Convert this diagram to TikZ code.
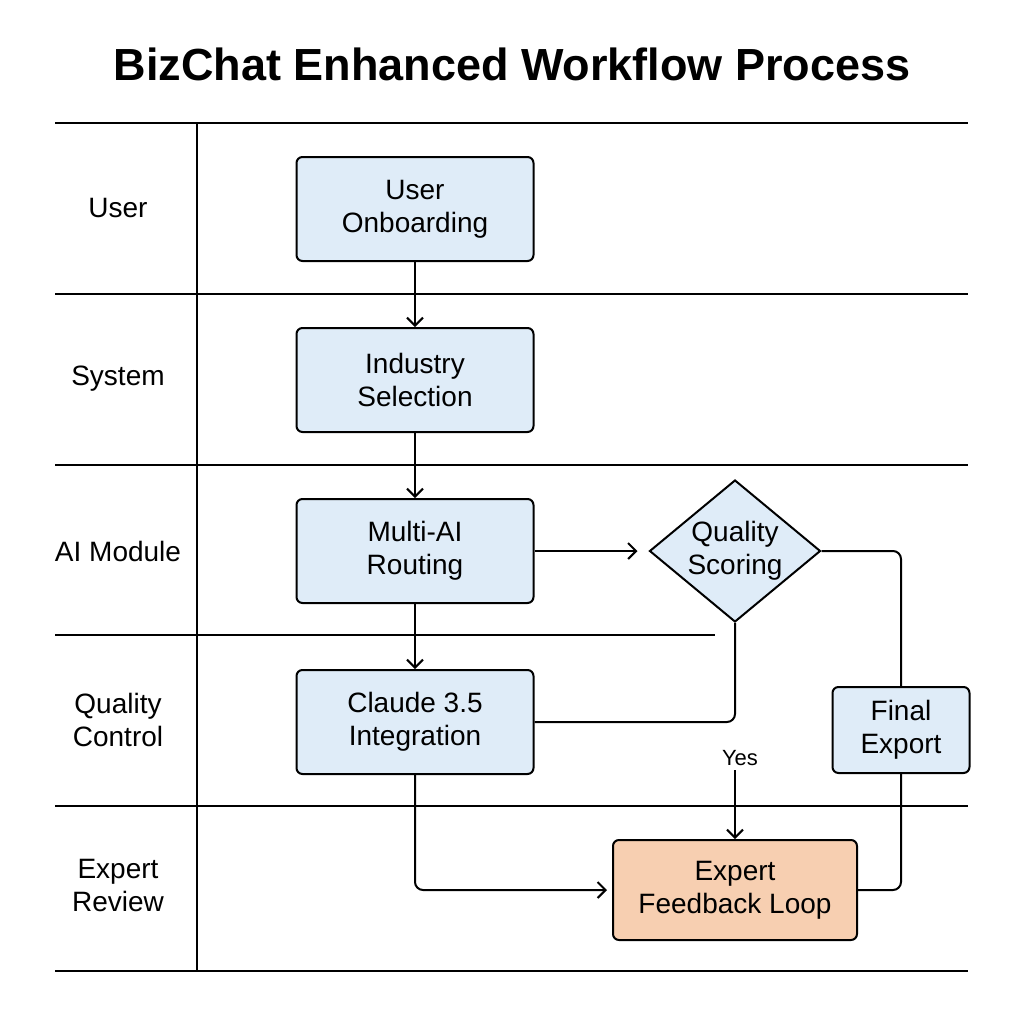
\documentclass[tikz,border=0pt]{standalone}
\usepackage{fontspec}
\setmainfont{Liberation Sans}
\usetikzlibrary{arrows.meta,positioning,shapes.geometric}
\definecolor{boxblue}{HTML}{DFECF8}
\definecolor{boxpeach}{HTML}{F7CFB1}

\begin{document}
\begin{tikzpicture}[
  x=0.5pt,y=-0.5pt,
  node distance=32.5pt and 57pt,
  every node/.style={font=\fontsize{14}{16.5}\selectfont},
  lane/.style={line width=1.2pt},
  box/.style={draw,line width=1pt,rounded corners=3pt,align=center,minimum width=118.5pt,minimum height=52pt,fill=boxblue},
  decision/.style={draw,line width=1pt,diamond,aspect=1.2,inner sep=0pt,align=center,minimum width=85.5pt,minimum height=71pt,fill=boxblue},
  lanelabel/.style={align=center},
  arr/.style={-{Straight Barb[length=4pt,width=8pt]},line width=1pt},
  link/.style={line width=1pt,rounded corners=4pt}
]
\useasboundingbox (0,0) rectangle (1024,1024);
\node[font=\fontsize{22.5}{27}\selectfont\bfseries] (title) at (512,64) {BizChat Enhanced Workflow Process};

% swimlanes
\foreach \y in {123,294,465,806,971}
  \draw[lane] (55,\y) -- (968,\y);
\draw[lane] (55,635) -- (715,635);
\draw[lane] (197,123) -- (197,971);

\node[lanelabel] (luser) at (118,208) {User};
\node[lanelabel] (lsystem) at (118,379) {System};
\node[lanelabel] (lai) at (118,551) {AI Module};
\node[lanelabel] (lquality) at (118,720) {Quality\\Control};
\node[lanelabel] (lexpert) at (118,885) {Expert\\Review};

% steps
\node[box] (onboard) at (415,209) {User\\Onboarding};
\node[box,below=of onboard] (industry) {Industry\\Selection};
\node[box,below=of industry] (routing) {Multi-AI\\Routing};
\node[box,below=of routing] (claude) {Claude 3.5\\Integration};
\node[decision,right=of routing] (scoring) {Quality\\Scoring};
\node[box,minimum width=68.5pt,minimum height=43pt] (export) at (901,730) {Final\\Export};
\node[box,fill=boxpeach,minimum width=122pt,minimum height=50pt] (expert) at (735,890) {Expert\\Feedback Loop};
\node[font=\fontsize{11}{13}\selectfont,inner sep=2pt] (yes) at (740,758) {Yes};

% flow
\draw[arr] (onboard) -- (industry);
\draw[arr] (industry) -- (routing);
\draw[arr] (routing) -- (claude);
\draw[arr,shorten >=5.5pt] (routing) -- (scoring);
\draw[link] (scoring.south) |- (claude.east);
\draw[link] (scoring.east) -| (export.north);
\draw[arr,rounded corners=4pt,shorten >=2.5pt] (claude.south) |- (expert.west);
\draw[arr] (yes.south -| expert.north) -- (expert.north);
\draw[link] (export.south) |- (expert.east);
\end{tikzpicture}
\end{document}
